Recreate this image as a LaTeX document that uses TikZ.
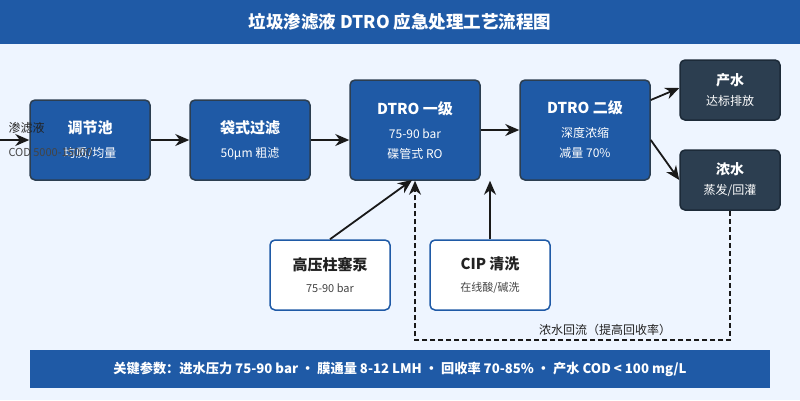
\documentclass[tikz,border=0pt]{standalone}
\usepackage{fontspec}
\setmainfont{Noto Sans CJK SC}
\usetikzlibrary{arrows.meta}

\definecolor{mblue}{HTML}{1F5AA6}
\definecolor{mdark}{HTML}{2C3E50}
\definecolor{medge}{HTML}{1C2A38}
\definecolor{bgc}{HTML}{EEF5FF}
\definecolor{txt}{HTML}{222222}
\definecolor{subtxt}{HTML}{444444}

\tikzset{
  mainbox/.style={rectangle, rounded corners=5pt, fill=mblue, draw=mdark, line width=1.5pt,
    text=white, align=center, inner sep=0pt, font=\fontsize{12}{20}\selectfont},
  outbox/.style={mainbox, fill=mdark, draw=medge},
  auxbox/.style={mainbox, fill=white, draw=mblue, text=txt},
  flow/.style={-{Stealth[length=14pt,width=12pt]}, line width=1.8pt, draw=black!90},
}
\newcommand{\ttl}[1]{{\fontsize{15}{18}\selectfont\bfseries #1}}
\newcommand{\sub}[1]{{\fontsize{12}{14}\selectfont #1}}

\begin{document}
\begin{tikzpicture}[x=1pt,y=-1pt]
  % 背景与边界
  \fill[bgc] (0,0) rectangle (800,400);
  \useasboundingbox (0,0) rectangle (800,400);

  % 1. 标题栏
  \fill[mblue] (0,0) rectangle (800,44);
  \node[text=white, font=\fontsize{17.5}{20}\selectfont\bfseries] (title) at (400,22)
    {垃圾渗滤液 DTRO 应急处理工艺流程图};

  % 2. 主流程（调节池 → 袋式过滤 → DTRO 一级 → DTRO 二级）
  \node[mainbox, minimum width=120pt, minimum height=80pt] (tiao) at (90,140)
    {\ttl{调节池}\\[4pt]\sub{均质/均量}};
  \node[mainbox, minimum width=120pt, minimum height=80pt] (dai) at (250,140)
    {\ttl{袋式过滤}\\[4pt]\sub{50μm 粗滤}};
  \node[mainbox, minimum width=130pt, minimum height=100pt] (dtroa) at (415,130)
    {\ttl{DTRO 一级}\\[4pt]\sub{75-90 bar}\\\sub{碟管式 RO}};
  \node[mainbox, minimum width=130pt, minimum height=100pt] (dtrob) at (585,130)
    {\ttl{DTRO 二级}\\[4pt]\sub{深度浓缩}\\\sub{减量 70\%}};

  % 3. 出水（产水 / 浓水）
  \node[outbox, minimum width=100pt, minimum height=60pt] (chan) at (730,90)
    {{\fontsize{14}{17}\selectfont\bfseries 产水}\\\sub{达标排放}};
  \node[outbox, minimum width=100pt, minimum height=60pt] (nong) at (730,180)
    {{\fontsize{14}{17}\selectfont\bfseries 浓水}\\\sub{蒸发/回灌}};

  % 4. 辅助单元
  \node[auxbox, minimum width=120pt, minimum height=70pt] (pump) at (330,275)
    {\ttl{高压柱塞泵}\\[2pt]{\color{subtxt}\fontsize{11}{13}\selectfont 75-90 bar}};
  \node[auxbox, minimum width=120pt, minimum height=70pt] (cip) at (490,275)
    {\ttl{CIP 清洗}\\[2pt]{\color{subtxt}\fontsize{11}{13}\selectfont 在线酸/碱洗}};

  % 5. 进水
  \coordinate (in) at (0,140);
  \draw[flow] (in) -- (tiao.west);
  \node[anchor=west, text=txt, font=\fontsize{12}{14}\selectfont] (inlbl) at (5,128) {渗滤液};
  \node[anchor=west, text=subtxt, font=\fontsize{11}{13}\selectfont] (incod) at (5,152) {COD 5000-15000};

  % 6. 连接
  \draw[flow] (tiao.east) -- (dai.west);
  \draw[flow] (dai.east) -- (dtroa.west |- dai.east);
  \draw[flow] (dtroa.east) -- (dtrob.west);
  \draw[flow] (dtrob.east |- 0,100) -- (chan.west |- 0,88);
  \draw[flow] (dtrob.east |- 0,140) -- (chan.west |- 0,180);
  \coordinate (pumpin) at (412,180);
  \draw[flow] (pump.north) -- (pumpin);
  \draw[flow] (cip.north) -- (cip.north |- dtroa.south);

  % 7. 浓水回流
  \coordinate (back) at (415,340);
  \draw[flow, dashed, dash pattern=on 5pt off 3pt] (nong.south) |- (back) -- (back |- dtroa.south);
  \node[text=txt, font=\fontsize{12}{14}\selectfont] (backlbl) at (605,330) {浓水回流（提高回收率）};

  % 8. 底部参数栏
  \fill[mblue] (30,350) rectangle (770,388);
  \node[text=white, font=\fontsize{13.2}{16}\selectfont\bfseries] (param) at (400,369)
    {关键参数：进水压力 75-90 bar · 膜通量 8-12 LMH · 回收率 70-85\% · 产水 COD < 100 mg/L};
\end{tikzpicture}
\end{document}
